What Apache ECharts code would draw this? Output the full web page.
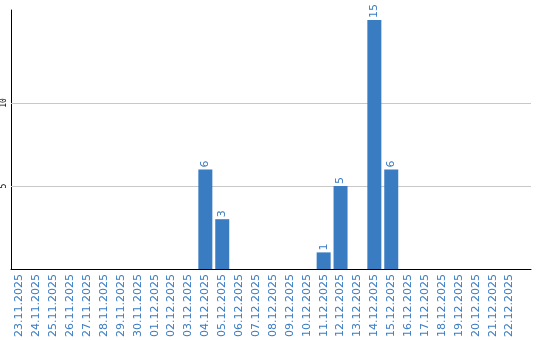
<!DOCTYPE html>
<html><head><meta charset="utf-8">
<script src="https://cdn.jsdelivr.net/npm/echarts@6/dist/echarts.min.js"></script>
<style>html,body{margin:0;padding:0;background:#fff}#c{width:540px;height:340px}</style>
</head><body><div id="c"></div>
<script>
const categories = ["23.11.2025","24.11.2025","25.11.2025","26.11.2025","27.11.2025","28.11.2025","29.11.2025","30.11.2025","01.12.2025","02.12.2025","03.12.2025","04.12.2025","05.12.2025","06.12.2025","07.12.2025","08.12.2025","09.12.2025","10.12.2025","11.12.2025","12.12.2025","13.12.2025","14.12.2025","15.12.2025","16.12.2025","17.12.2025","18.12.2025","19.12.2025","20.12.2025","21.12.2025","22.12.2025"];
const values = [0,0,0,0,0,0,0,0,0,0,0,6,3,0,0,0,0,0,1,5,0,15,6,0,0,0,0,0,0,0];
const yTicks = [5, 10];

const blue = '#3a7cc2';
const chart = echarts.init(document.getElementById('c'));
chart.setOption({
  animation: false,
  grid: [
    {left: 11, right: 9, top: 10, bottom: 71},
    {left: 11, right: 22, top: 10, bottom: 71}
  ],
  xAxis: [
    {gridIndex: 0, type: 'value', min: 0, max: 1, axisLine: {show: true, onZero: false, lineStyle: {color: '#000', width: 1}}, axisTick: {show: false}, axisLabel: {show: false}, splitLine: {show: false}},
    {gridIndex: 1, type: 'category', data: categories, axisLine: {show: false}, axisTick: {show: false},
     axisLabel: {interval: 0, rotate: 90, color: blue, fontFamily: 'DejaVu Sans', fontSize: 11, margin: 5}}
  ],
  yAxis: [
    {gridIndex: 0, type: 'value', min: 0, max: 15.6,
     axisLine: {show: true, lineStyle: {color: '#000', width: 1}},
     axisTick: {show: false, customValues: yTicks},
     axisLabel: {rotate: 90, fontSize: 8, fontFamily: 'DejaVu Sans Mono', color: '#000', margin: 3, customValues: yTicks},
     splitLine: {show: false}},
    {gridIndex: 1, type: 'value', min: 0, max: 15.6, show: false}
  ],
  series: [{
    type: 'line', xAxisIndex: 0, yAxisIndex: 0, data: [], silent: true, z: 1,
    markLine: {symbol: 'none', silent: true, z: 1, label: {show: false},
      lineStyle: {color: '#c8c8c8', width: 1, type: 'solid'},
      data: yTicks.map(v => ({yAxis: v}))}
  }, {
    type: 'bar', xAxisIndex: 1, yAxisIndex: 1, data: values, barWidth: 14, z: 5,
    itemStyle: {color: blue},
    label: {show: true, position: 'top', rotate: 90, align: 'left', verticalAlign: 'middle', distance: 2,
      color: blue, fontFamily: 'DejaVu Sans', fontSize: 11,
      formatter: p => p.value ? String(p.value) : ''}
  }]
});
</script></body></html>
